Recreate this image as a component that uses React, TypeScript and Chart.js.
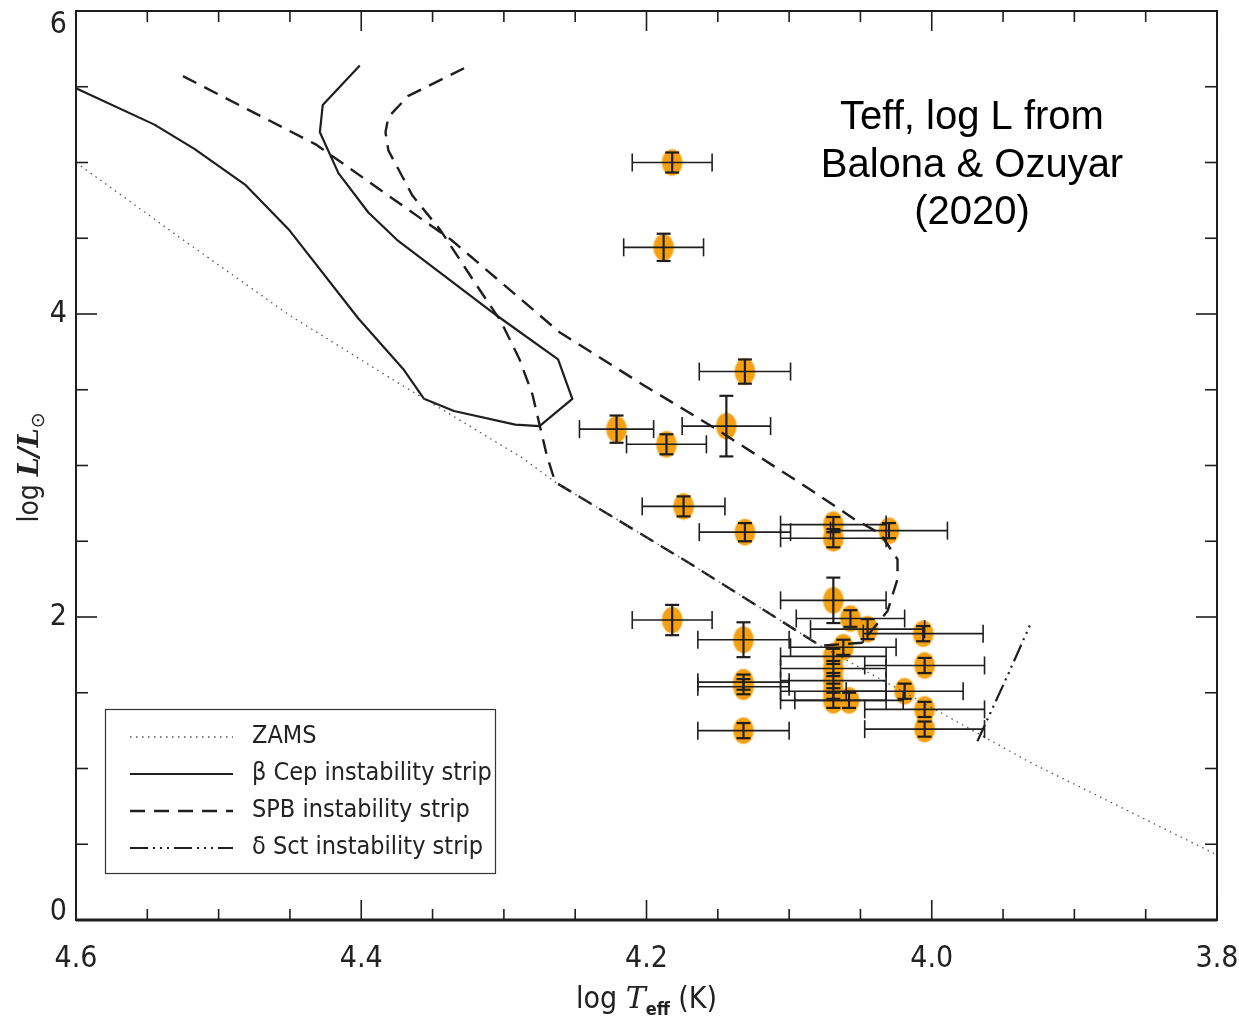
import React, { useEffect, useRef } from "react";
import { Chart, registerables } from "chart.js";

Chart.register(...registerables);

// ---------- data (log Teff, log L/Lsun) ----------
const starLogT = [4.182, 4.188, 4.131, 4.221, 4.186, 4.144, 4.174, 4.131, 4.069, 4.069, 4.030, 4.069, 4.057, 4.045, 4.006, 4.182, 4.132, 4.062, 4.069, 4.069, 4.069, 4.069, 4.069, 4.058, 4.132, 4.132, 4.132, 4.005, 4.019, 4.005, 4.005];
const starLogL = [5.00, 4.44, 3.62, 3.24, 3.14, 3.26, 2.73, 2.56, 2.61, 2.52, 2.57, 2.11, 1.99, 1.92, 1.89, 1.98, 1.85, 1.80, 1.74, 1.66, 1.58, 1.51, 1.45, 1.45, 1.57, 1.54, 1.25, 1.68, 1.51, 1.39, 1.26];
const errLogT = [0.028, 0.028, 0.032, 0.026, 0.028, 0.031, 0.029, 0.032, 0.037, 0.037, 0.041, 0.037, 0.038, 0.040, 0.042, 0.028, 0.032, 0.037, 0.037, 0.037, 0.037, 0.037, 0.037, 0.038, 0.032, 0.032, 0.032, 0.042, 0.041, 0.042, 0.042];
const errLogL = [0.066, 0.09, 0.08, 0.09, 0.066, 0.20, 0.066, 0.06, 0.05, 0.06, 0.05, 0.15, 0.055, 0.066, 0.05, 0.10, 0.115, 0.05, 0.05, 0.05, 0.05, 0.05, 0.05, 0.05, 0.05, 0.05, 0.05, 0.05, 0.05, 0.05, 0.05];

const zamsLogT = [4.600, 4.525, 4.450, 4.375, 4.287, 4.264, 4.169, 4.078, 3.994, 3.933, 3.800];
const zamsLogL = [5.00, 4.49, 3.99, 3.55, 3.05, 2.89, 2.35, 1.81, 1.37, 1.05, 0.43];

const betaCepLogT = [4.600, 4.545, 4.517, 4.481, 4.451, 4.402, 4.370, 4.356, 4.335, 4.292, 4.275, 4.252, 4.262, 4.305, 4.375, 4.395, 4.416, 4.429, 4.427, 4.401];
const betaCepLogL = [5.49, 5.25, 5.09, 4.85, 4.56, 3.97, 3.63, 3.44, 3.36, 3.27, 3.26, 3.44, 3.70, 3.99, 4.49, 4.67, 4.93, 5.20, 5.38, 5.64];

const spbLogT = [4.525, 4.432, 4.337, 4.261, 4.202, 4.151, 4.085, 4.055, 4.036, 4.024, 4.024, 4.031, 4.049, 4.078, 4.169, 4.264, 4.270, 4.280, 4.289, 4.302, 4.317, 4.345, 4.364, 4.381, 4.383, 4.381, 4.367, 4.324];
const spbLogL = [5.57, 5.12, 4.49, 3.88, 3.53, 3.24, 2.84, 2.65, 2.55, 2.38, 2.25, 2.04, 1.83, 1.81, 2.35, 2.89, 3.07, 3.47, 3.70, 3.95, 4.16, 4.56, 4.78, 5.08, 5.20, 5.30, 5.44, 5.64];

const deltaSctLogT = [3.968, 3.947, 3.930];
const deltaSctLogL = [1.18, 1.61, 1.97];

const xMin = 3.8;
const xMax = 4.6;
const yMin = 0;
const yMax = 6;
const xMajorStep = 0.2;
const xMinorStep = 0.05;
const yMajorStep = 2;
const yMinorStep = 0.5;

const legendLabels = ["ZAMS", "β Cep instability strip", "SPB instability strip", "δ Sct instability strip"];
const annotationLines = ["Teff, log L from", "Balona & Ozuyar", "(2020)"];

// ---------- styles ----------
const NARROW = '"Liberation Sans Narrow", "DejaVu Sans Condensed", "Liberation Sans", sans-serif';
const SERIF = '"DejaVu Serif", "Liberation Serif", serif';
const ANNOT = '"Liberation Sans", Arial, sans-serif';
const INK = "#1e1e1e";
const ORANGE = "#f5a012";

const lineDash = [[1.5, 4.5], [], [15, 9], [18, 5, 2, 5, 2, 5, 2, 5]];
const lineWidth = [1.3, 2.2, 2.4, 2.2];
const lineColor = ["#555", INK, INK, INK];

function makeEllipse(): HTMLCanvasElement {
  const c = document.createElement("canvas");
  c.width = 24;
  c.height = 30;
  const g = c.getContext("2d")!;
  g.fillStyle = "rgba(245,160,18,0.4)";
  g.beginPath();
  g.ellipse(12, 15, 10.8, 13.8, 0, 0, Math.PI * 2);
  g.fill();
  g.fillStyle = ORANGE;
  g.beginPath();
  g.ellipse(12, 15, 10, 13, 0, 0, Math.PI * 2);
  g.fill();
  return c;
}

type Piece = { text: string; font: string; dy?: number };

function drawPieces(ctx: CanvasRenderingContext2D, pieces: Piece[], cx: number, baseline: number) {
  let total = 0;
  const widths = pieces.map((p) => {
    ctx.font = p.font;
    const w = ctx.measureText(p.text).width;
    total += w;
    return w;
  });
  let x = cx - total / 2;
  ctx.textAlign = "left";
  ctx.textBaseline = "alphabetic";
  pieces.forEach((p, i) => {
    ctx.font = p.font;
    ctx.fillText(p.text, x, baseline + (p.dy || 0));
    x += widths[i];
  });
}

function seg(ctx: CanvasRenderingContext2D, x1: number, y1: number, x2: number, y2: number) {
  ctx.beginPath();
  ctx.moveTo(x1, y1);
  ctx.lineTo(x2, y2);
  ctx.stroke();
}

const hrPlugin = {
  id: "hrDecor",
  afterDatasetsDraw(chart: any) {
    const ctx: CanvasRenderingContext2D = chart.ctx;
    const xs = chart.scales.x;
    const ys = chart.scales.y;
    ctx.save();
    ctx.strokeStyle = INK;
    starLogT.forEach((t, i) => {
      const cx = xs.getPixelForValue(t);
      const cy = ys.getPixelForValue(starLogL[i]);
      const xl = xs.getPixelForValue(t + errLogT[i]);
      const xr = xs.getPixelForValue(t - errLogT[i]);
      const yt = ys.getPixelForValue(starLogL[i] + errLogL[i]);
      const yb = ys.getPixelForValue(starLogL[i] - errLogL[i]);
      ctx.lineWidth = 1.6;
      seg(ctx, xl, cy, xr, cy);
      seg(ctx, xl, cy - 9, xl, cy + 9);
      seg(ctx, xr, cy - 9, xr, cy + 9);
      ctx.lineWidth = 2.2;
      seg(ctx, cx, yt, cx, yb);
      seg(ctx, cx - 7, yt, cx + 7, yt);
      seg(ctx, cx - 7, yb, cx + 7, yb);
    });
    ctx.restore();
  },
  afterDraw(chart: any) {
    const ctx: CanvasRenderingContext2D = chart.ctx;
    const { left, right, top, bottom } = chart.chartArea;
    const xs = chart.scales.x;
    const ys = chart.scales.y;
    ctx.save();

    // frame
    ctx.strokeStyle = INK;
    ctx.lineWidth = 2;
    ctx.strokeRect(left, top, right - left, bottom - top);
    ctx.lineWidth = 3;
    seg(ctx, left, bottom, right, bottom);

    // inward ticks
    ctx.lineWidth = 1.6;
    const nx = Math.round((xMax - xMin) / xMinorStep);
    const perMajorX = Math.round(xMajorStep / xMinorStep);
    for (let i = 0; i <= nx; i++) {
      const v = xMin + i * xMinorStep;
      const px = xs.getPixelForValue(v);
      const len = i % perMajorX === 0 ? 20 : 11;
      seg(ctx, px, bottom, px, bottom - len);
      seg(ctx, px, top, px, top + len);
    }
    const ny = Math.round((yMax - yMin) / yMinorStep);
    const perMajorY = Math.round(yMajorStep / yMinorStep);
    for (let i = 0; i <= ny; i++) {
      const v = yMin + i * yMinorStep;
      const py = ys.getPixelForValue(v);
      const len = i % perMajorY === 0 ? 21 : 12;
      seg(ctx, left, py, left + len, py);
      seg(ctx, right, py, right - len, py);
    }

    // tick labels
    ctx.fillStyle = "#222";
    ctx.font = `30px ${NARROW}`;
    ctx.textAlign = "right";
    ctx.textBaseline = "middle";
    ys.ticks.forEach((tk: any) => {
      let py = ys.getPixelForValue(tk.value);
      py = Math.max(top + 14, Math.min(bottom - 8, py));
      ctx.fillText(String(Math.round(tk.value)), left - 9, py);
    });
    ctx.textAlign = "center";
    xs.ticks.forEach((tk: any) => {
      const px = xs.getPixelForValue(tk.value);
      ctx.fillText(Number(tk.value).toFixed(1), px, bottom + 39);
    });

    // x title
    ctx.fillStyle = "#222";
    drawPieces(
      ctx,
      [
        { text: "log ", font: `30px ${NARROW}` },
        { text: "T", font: `italic 30px ${SERIF}` },
        { text: "eff", font: `bold 18px ${NARROW}`, dy: 7 },
        { text: " (K)", font: `30px ${NARROW}` },
      ],
      (left + right) / 2,
      1008
    );

    // y title (rotated)
    ctx.save();
    ctx.translate(38, (top + bottom) / 2 + 2);
    ctx.rotate(-Math.PI / 2);
    drawPieces(
      ctx,
      [
        { text: "log ", font: `28px ${NARROW}` },
        { text: "L/L", font: `italic bold 27px ${SERIF}` },
        { text: "⊙", font: `19px "DejaVu Sans", sans-serif`, dy: 6 },
      ],
      0,
      0
    );
    ctx.restore();

    // legend box
    const bx = left + 29;
    const by = bottom - 211;
    const bw = 390;
    const bh = 164;
    ctx.fillStyle = "#fff";
    ctx.fillRect(bx, by, bw, bh);
    ctx.strokeStyle = "#333";
    ctx.lineWidth = 1.2;
    ctx.strokeRect(bx + 0.5, by + 0.5, bw, bh);
    legendLabels.forEach((lab, i) => {
      const ry = by + 27 + i * 37;
      ctx.save();
      ctx.strokeStyle = lineColor[i];
      ctx.lineWidth = lineWidth[i];
      ctx.setLineDash(lineDash[i]);
      seg(ctx, bx + 25, ry + 1, bx + 128, ry + 1);
      ctx.restore();
      ctx.fillStyle = "#222";
      ctx.font = `25px ${NARROW}`;
      ctx.textAlign = "left";
      ctx.textBaseline = "middle";
      ctx.fillText(lab, bx + 147, ry);
    });

    // annotation
    ctx.fillStyle = "#000";
    ctx.font = `40px ${ANNOT}`;
    ctx.textAlign = "center";
    ctx.textBaseline = "middle";
    annotationLines.forEach((t, i) => {
      ctx.fillText(t, right - 245, top + 107 + i * 47.5);
    });

    ctx.restore();
  },
};

export default function App() {
  const ref = useRef<HTMLCanvasElement>(null);
  useEffect(() => {
    document.body.style.margin = "0";
    const canvas = ref.current;
    if (!canvas) return;
    const ellipse = makeEllipse();
    const toXY = (xv: number[], yv: number[]) => xv.map((x, i) => ({ x, y: yv[i] }));
    const curve = (label: string, xv: number[], yv: number[], k: number) => ({
      label,
      data: toXY(xv, yv),
      showLine: true,
      pointRadius: 0,
      borderColor: lineColor[k],
      borderWidth: lineWidth[k],
      borderDash: lineDash[k],
      borderJoinStyle: "round" as const,
      fill: false,
      tension: 0,
    });
    const chart = new Chart(canvas, {
      type: "scatter",
      data: {
        datasets: [
          curve(legendLabels[0], zamsLogT, zamsLogL, 0),
          curve(legendLabels[1], betaCepLogT, betaCepLogL, 1),
          curve(legendLabels[2], spbLogT, spbLogL, 2),
          curve(legendLabels[3], deltaSctLogT, deltaSctLogL, 3),
          {
            label: "stars",
            data: toXY(starLogT, starLogL),
            showLine: false,
            pointStyle: ellipse as any,
            pointRadius: 10,
          },
        ],
      },
      options: {
        responsive: false,
        animation: false,
        devicePixelRatio: 1,
        events: [],
        layout: { padding: { left: 0, right: 22, top: 8, bottom: 0 } },
        plugins: { legend: { display: false }, tooltip: { enabled: false } },
        scales: {
          x: {
            type: "linear",
            min: xMin,
            max: xMax,
            reverse: true,
            grid: { display: false, drawTicks: false },
            border: { display: false },
            ticks: { stepSize: xMajorStep, display: false },
            afterFit: (s: any) => {
              s.height = 98;
            },
          },
          y: {
            type: "linear",
            min: yMin,
            max: yMax,
            grid: { display: false, drawTicks: false },
            border: { display: false },
            ticks: { stepSize: yMajorStep, display: false },
            afterFit: (s: any) => {
              s.width = 76;
            },
          },
        },
      },
      plugins: [hrPlugin],
    });
    return () => chart.destroy();
  }, []);
  return (
    <div style={{ width: 1239, height: 1018, background: "#fff" }}>
      <canvas ref={ref} width={1239} height={1018} style={{ display: "block" }} />
    </div>
  );
}
